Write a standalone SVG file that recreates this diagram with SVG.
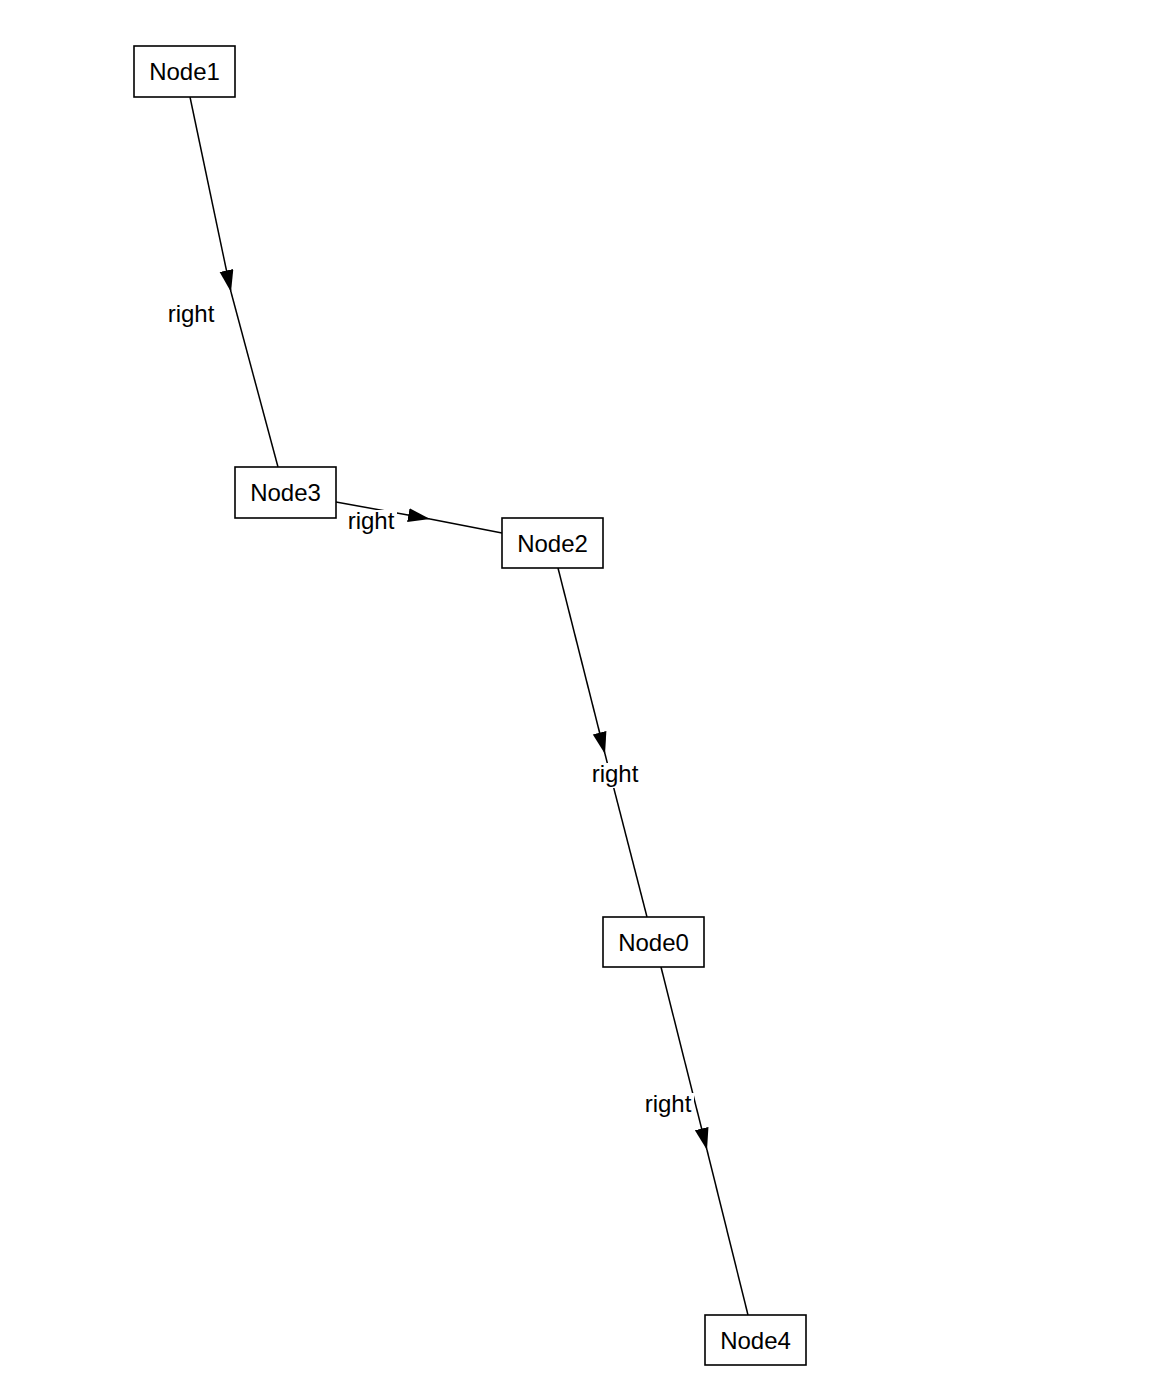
<svg xmlns="http://www.w3.org/2000/svg" width="1170" height="1388" viewBox="0 0 1170 1388">
<defs>
<style>
.node rect{fill:#fff;stroke:#000;stroke-width:1.6}
.node text{font-family:"Liberation Sans",Arial,sans-serif;font-size:24px;fill:#000;text-anchor:middle}
.edge path{fill:none;stroke:#000;stroke-width:1.5}
.lbl rect{fill:#fff}
.lbl text{font-family:"Liberation Sans",Arial,sans-serif;font-size:24px;fill:#000;text-anchor:middle}
</style>
<marker id="arr" markerUnits="userSpaceOnUse" markerWidth="24" markerHeight="15" refX="22" refY="7" orient="auto">
<path d="M0,0 L22,7 L0,14 z" fill="#000"/>
</marker>
</defs>
<rect width="1170" height="1388" fill="#fff"/>
<g id="connectors">
<g class="edge" id="e1-3">
<path d="M190,97 L231,292" marker-end="url(#arr)"/>
<path d="M231,292 L278,467"/>
</g>
<g class="edge" id="e3-2">
<path d="M336,502 L430,519" marker-end="url(#arr)"/>
<path d="M430,519 L502,533"/>
</g>
<g class="edge" id="e2-0">
<path d="M558,568 L605,754" marker-end="url(#arr)"/>
<path d="M605,754 L647,917"/>
</g>
<g class="edge" id="e0-4">
<path d="M661,967 L707,1150" marker-end="url(#arr)"/>
<path d="M707,1150 L748,1315"/>
</g>
<g class="lbl">
<rect x="165" y="303" width="52" height="25"/><text x="191" y="322">right</text>
<rect x="345" y="510" width="52" height="25"/><text x="371" y="529">right</text>
<rect x="589" y="763" width="52" height="25"/><text x="615" y="782">right</text>
<rect x="642" y="1093" width="52" height="25"/><text x="668" y="1112">right</text>
</g>
</g>
<g class="node" id="Node1"><rect x="134" y="46" width="101" height="51"/><text x="184.5" y="80">Node1</text></g>
<g class="node" id="Node3"><rect x="235" y="467" width="101" height="51"/><text x="285.5" y="501">Node3</text></g>
<g class="node" id="Node2"><rect x="502" y="518" width="101" height="50"/><text x="552.5" y="552">Node2</text></g>
<g class="node" id="Node0"><rect x="603" y="917" width="101" height="50"/><text x="653.5" y="951">Node0</text></g>
<g class="node" id="Node4"><rect x="705" y="1315" width="101" height="50"/><text x="755.5" y="1349">Node4</text></g>
</svg>
